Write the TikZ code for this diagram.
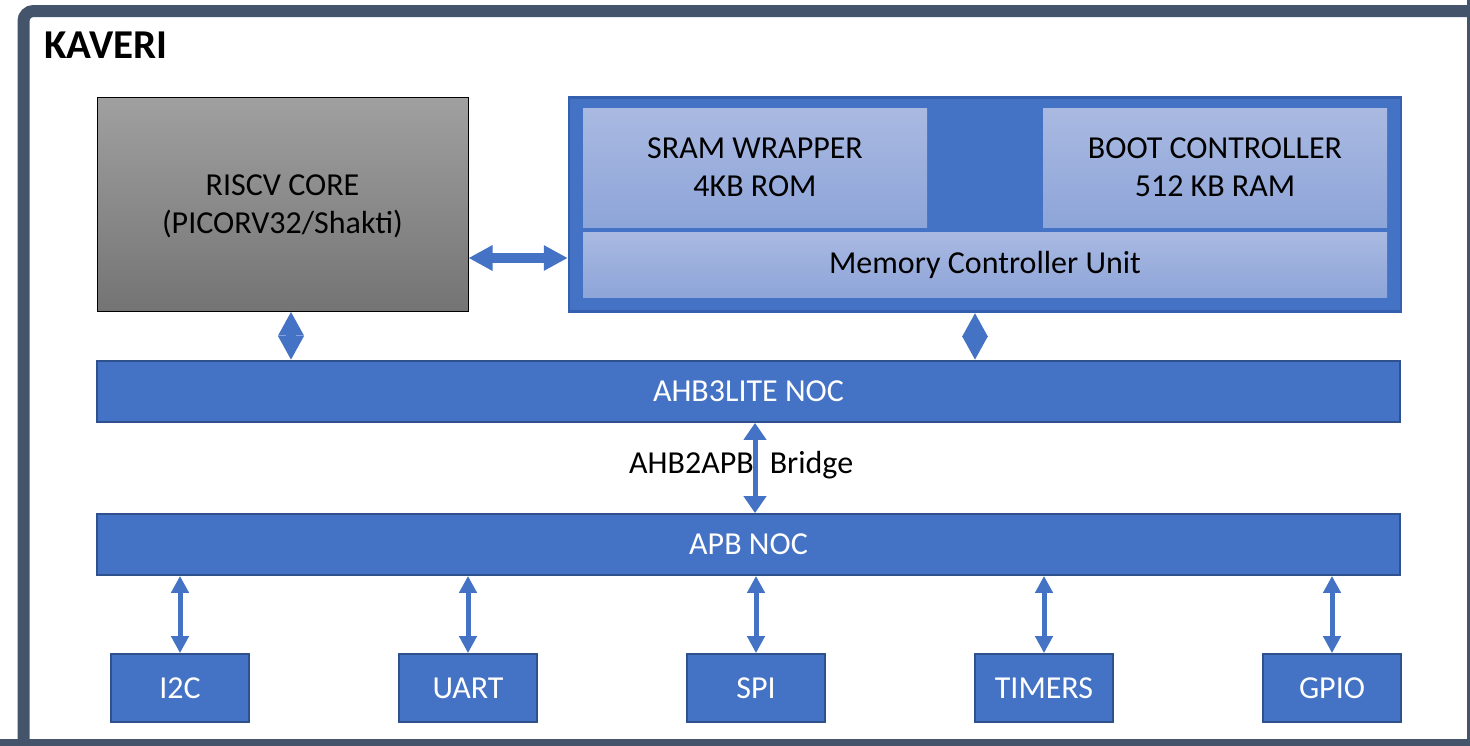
\documentclass[tikz,border=0pt]{standalone}
\usepackage{fontspec}
\setmainfont{Carlito}
\usetikzlibrary{arrows.meta}
\definecolor{framec}{HTML}{44546A}
\definecolor{blu}{HTML}{4472C4}
\definecolor{bluedge}{HTML}{2F528F}
\definecolor{memedge}{HTML}{3560B0}
\definecolor{lt}{HTML}{A9B9E1}
\definecolor{lb}{HTML}{8EA5D9}
\definecolor{gt}{HTML}{A0A0A0}
\definecolor{gb}{HTML}{747474}
\tikzset{
  txt/.style={font=\fontsize{32}{38}\selectfont, align=center, inner sep=0pt},
  bluebox/.style={txt, draw=bluedge, line width=1.8pt, fill=blu, text=white},
  lightbox/.style={txt, top color=lt, bottom color=lb, text=black},
  bigarr/.style={draw=blu, line width=10pt, {Triangle[length=24pt,width=24pt,fill=blu]}-{Triangle[length=24pt,width=24pt,fill=blu]}},
  midarr/.style={draw=blu, line width=5pt, {Triangle[length=17pt,width=22pt,fill=blu]}-{Triangle[length=17pt,width=22pt,fill=blu]}},
  smallarr/.style={draw=blu, line width=5pt, {Triangle[length=17pt,width=17pt,fill=blu]}-{Triangle[length=17pt,width=17pt,fill=blu]}},
  periph/.style={bluebox, minimum width=138pt, minimum height=68pt},
  framel/.style={draw=framec, line width=12pt}
}
\begin{document}
\begin{tikzpicture}[x=1pt,y=-1pt]
\useasboundingbox (0,0) rectangle (1470,745);
\clip (0,0) rectangle (1470,745);
\fill[white] (23.5,11) rectangle (1473,745);
\draw[framel, rounded corners=10pt] (23.5,770) -- (23.5,11) -- (1490,11);
\draw[framel] (1473,0) -- (1473,760);
\draw[framel] (0,745) -- (1490,745);
\node[anchor=west, inner sep=0pt, font=\fontsize{41}{46}\selectfont\bfseries] (title) at (44,45) {KAVERI};

\node[draw=black, line width=1pt, top color=gt, bottom color=gb, minimum width=371pt, minimum height=214pt, inner sep=0pt] (riscv) at (282.5,204) {};
\node[txt] (riscvtxt) at (282.5,206) {RISCV CORE\\(PICORV32/Shakti)};
\node[draw=memedge, line width=2.5pt, fill=blu, minimum width=832pt, minimum height=214pt, inner sep=0pt] (mem) at (985,204.5) {};
\node[lightbox, minimum width=344pt, minimum height=119pt] (sram) at (755,167.5) {SRAM WRAPPER\\4KB ROM};
\node[lightbox, minimum width=344pt, minimum height=119pt] (boot) at (1215,167.5) {BOOT CONTROLLER\\512 KB RAM};
\node[lightbox, minimum width=804pt, minimum height=65pt] (mcu) at (985,264.5) {Memory Controller Unit};

\node[bluebox, minimum width=1303pt, minimum height=61pt] (ahb) at (748.5,391.5) {AHB3LITE NOC};
\node[bluebox, minimum width=1303pt, minimum height=61pt] (apb) at (748.5,544.5) {APB NOC};

\node[periph] (i2c) at (180,688) {I2C};
\node[periph] (uart) at (468,688) {UART};
\node[periph] (spi) at (756,688) {SPI};
\node[periph] (timers) at (1044,688) {TIMERS};
\node[periph] (gpio) at (1332,688) {GPIO};

\draw[bigarr] ([yshift=-54pt]riscv.east) -- ([yshift=-54pt]riscv.east -| mem.west);
\draw[bigarr] ([xshift=8.5pt]riscv.south) -- ([xshift=8.5pt]riscv.south |- ahb.north);
\draw[bigarr] ([xshift=-10pt]mem.south) -- ([xshift=-10pt]mem.south |- ahb.north);
\draw[midarr] ([xshift=6.5pt]ahb.south) -- ([xshift=6.5pt]ahb.south |- apb.north);
\node[txt, anchor=west] (bridge) at (629,465) {AHB2APB\hspace{16pt}Bridge};

\foreach \p in {i2c,uart,spi,timers,gpio}
  \draw[smallarr] (\p.north |- apb.south) -- (\p.north);
\end{tikzpicture}
\end{document}
